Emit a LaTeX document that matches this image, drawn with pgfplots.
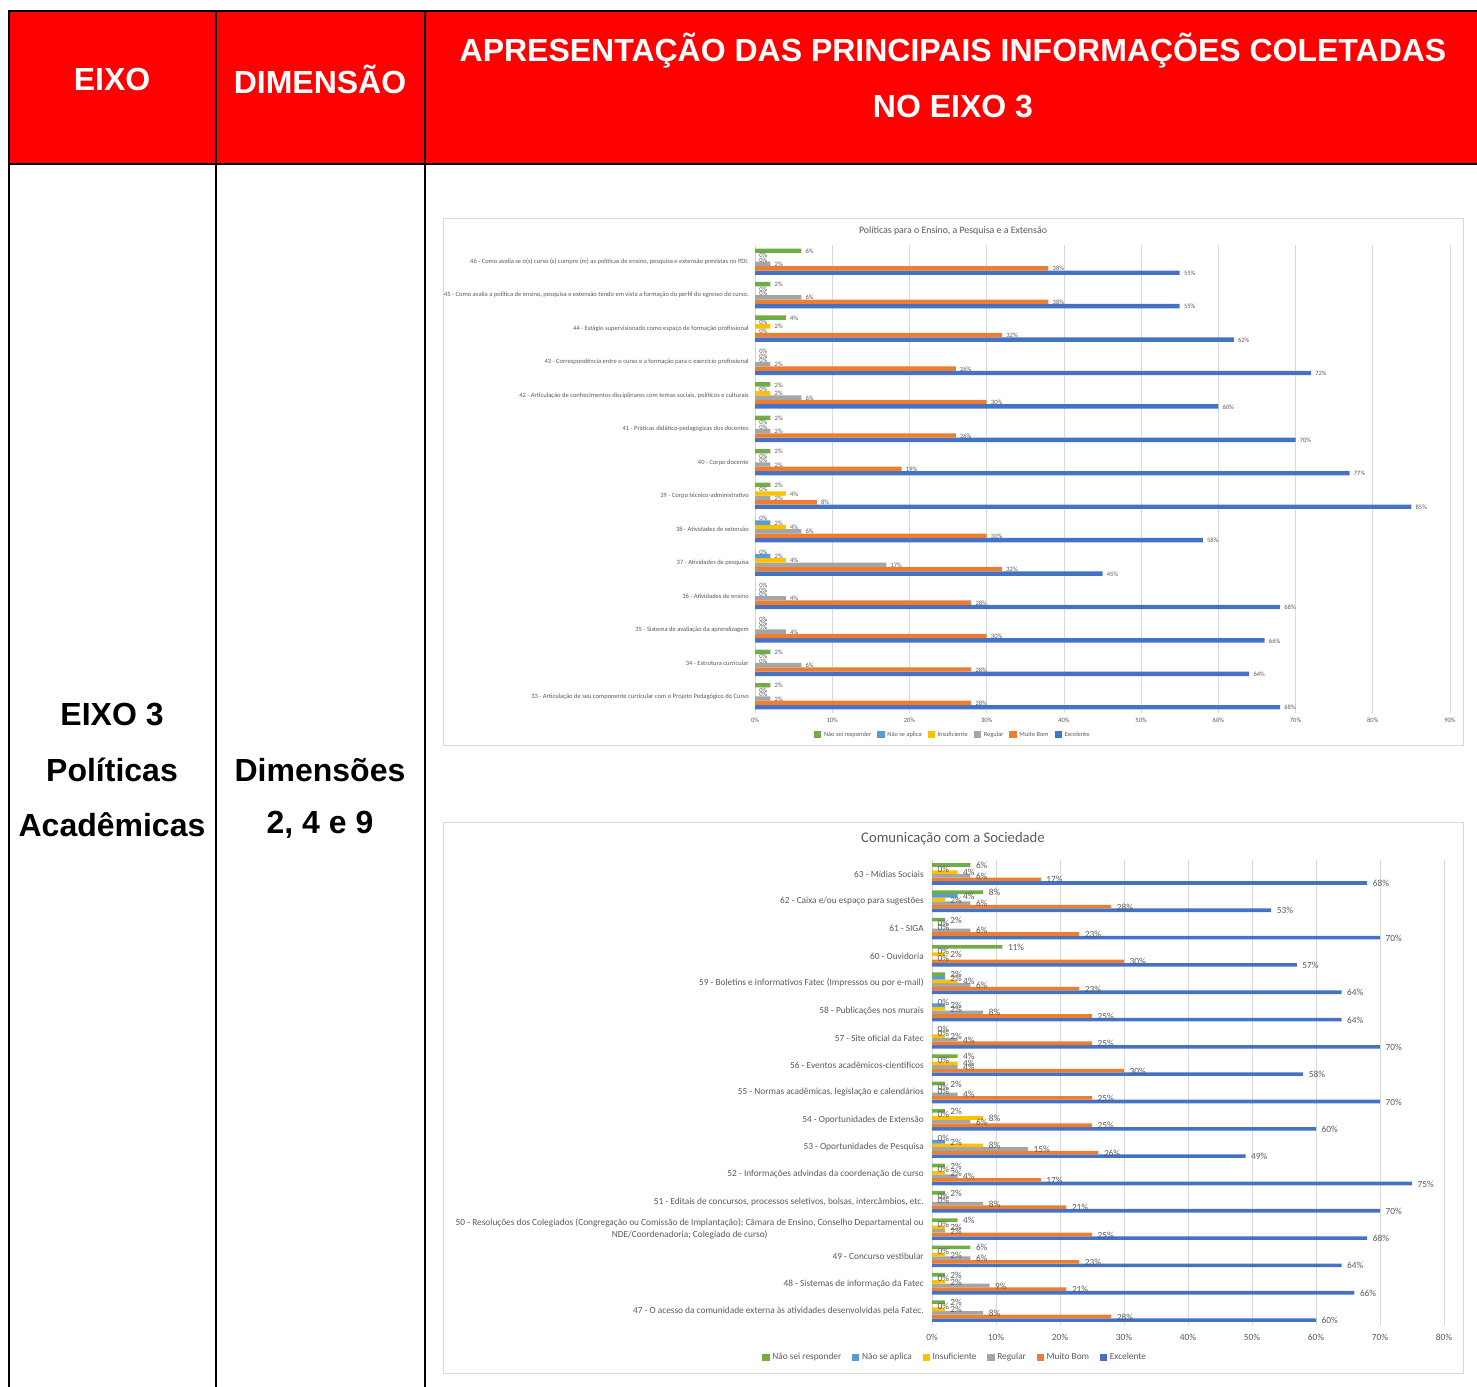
\documentclass[border=0pt]{standalone}
\usepackage{pgfplots}
\pgfplotsset{compat=1.18}
\usepackage{pgfplotstable}
\usepackage{fontspec}
\setmainfont{Carlito}
\newfontfamily\arial{Liberation Sans}
\definecolor{cNSR}{HTML}{70AD47}
\definecolor{cNSA}{HTML}{5B9BD5}
\definecolor{cINS}{HTML}{FFC000}
\definecolor{cREG}{HTML}{A5A5A5}
\definecolor{cMB}{HTML}{ED7D31}
\definecolor{cEXC}{HTML}{4472C4}
\definecolor{txt}{HTML}{595959}
\definecolor{gridc}{HTML}{D9D9D9}

\pgfplotstableread{
y nsr nsa ins reg mb exc
0 6 0 0 2 38 55
1 2 0 0 6 38 55
2 4 0 2 0 32 62
3 0 0 0 2 26 72
4 2 0 2 6 30 60
5 2 0 0 2 26 70
6 2 0 0 2 19 77
7 2 0 4 2 8 85
8 0 2 4 6 30 58
9 0 2 4 17 32 45
10 0 0 0 4 28 68
11 0 0 0 4 30 66
12 2 0 0 6 28 64
13 2 0 0 2 28 68
}\dataA

\pgfplotstableread{
y nsr nsa ins reg mb exc
0 6 0 4 6 17 68
1 8 4 2 6 28 53
2 2 0 0 6 23 70
3 11 0 2 0 30 57
4 2 2 4 6 23 64
5 0 2 2 8 25 64
6 0 0 2 4 25 70
7 4 0 4 4 30 58
8 2 0 0 4 25 70
9 2 0 8 6 25 60
10 0 2 8 15 26 49
11 2 0 2 4 17 75
12 2 0 0 8 21 70
13 4 0 2 2 25 68
14 6 0 2 6 23 64
15 2 0 2 9 21 66
16 2 0 2 8 28 60
}\dataB

\pgfplotsset{excelbar/.style={
  xbar=0pt, scale only axis, y dir=reverse,
  axis line style={draw=none}, major tick length=0pt,
  xmajorgrids, major grid style={gridc, line width=0.6pt},
  point meta=x,
  nodes near coords={\pgfmathprintnumber{\pgfplotspointmeta}\%},
  every node near coord/.append style={color=txt, inner sep=1pt, yshift=-0.3pt},
  /pgf/number format/assume math mode=true,
  xticklabel={\pgfmathprintnumber{\tick}\%},
  tick label style={color=txt},
  yticklabel style={inner sep=0pt, align=center},
  xticklabel style={inner sep=0pt},
  legend cell align=left, reverse legend,
  legend style={draw=none, fill=none, legend columns=6, text=txt},
  legend image code/.code={\fill[##1,draw=none] (0pt,-0.25em) rectangle (0.55em,0.3em);},
}}

\begin{document}
\begin{tikzpicture}
\useasboundingbox (0pt,0pt) rectangle (1107.75pt,-1040.25pt);
\begin{scope}[x=0.75pt,y=-0.75pt]
\fill[red] (9,11) rectangle (1477,164);
\draw[line width=1.5pt] (1477,11) -- (9,11) -- (9,1387);
\draw[line width=1.5pt] (9,164) -- (1477,164);
\draw[line width=1.5pt] (216,11) -- (216,1387);
\draw[line width=1.5pt] (425,11) -- (425,1387);
\begin{scope}[font=\arial\bfseries\fontsize{24}{28}\selectfont]
\node[white] at (112,79) {EIXO};
\node[white] at (320,79) {DIMENSÃO};
\node[white] at (953,51) {APRESENTAÇÃO DAS PRINCIPAIS INFORMAÇÕES COLETADAS};
\node[white] at (953,107) {NO EIXO 3};
\node at (112,715) {EIXO 3};
\node at (112,770) {Políticas};
\node at (112,825) {Acadêmicas};
\node at (320,770) {Dimensões};
\node at (320,825) {2, 4 e 9};
\end{scope}
\draw[gridc, line width=0.75pt] (443,219) rectangle (1463,745);
\draw[gridc, line width=0.75pt] (443,822) rectangle (1463,1373);
\node[txt, font=\fontsize{7.4}{8.6}\selectfont] at (953,231) {Políticas para o Ensino, a Pesquisa e a Extensão};
\node[txt, font=\fontsize{11}{13}\selectfont] at (953,839) {Comunicação com a Sociedade};
\end{scope}

\begin{axis}[excelbar, at={(826.875pt,-359.25pt)}, anchor=center,
  width=521.25pt, height=351pt, bar width=3.3pt,
  xmin=0, xmax=90, xtick={0,10,...,90},
  ymin=-0.5, ymax=13.5, ytick={0,...,13},
  yticklabels={
  {46 - Como avalia se o(s) curso (s) cumpre (m) as políticas de ensino, pesquisa e extensão previstas no PDI.},
  {45 - Como avalia a política de ensino, pesquisa e extensão tendo em vista a formação do perfil do egresso do curso.},
  {44 - Estágio supervisionado como espaço de formação profissional},
  {43 - Correspondência entre o curso e a formação para o exercício profissional},
  {42 - Articulação de conhecimentos disciplinares com temas sociais, políticos e culturais},
  {41 - Práticas didático-pedagógicas dos docentes},
  {40 - Corpo docente},
  {39 - Corpo técnico-administrativo},
  {38 - Atividades de extensão},
  {37 - Atividades de pesquisa},
  {36 - Atividades de ensino},
  {35 - Sistema de avaliação da aprendizagem},
  {34 - Estrutura curricular},
  {33 - Articulação de seu componente curricular com o Projeto Pedagógico do Curso}},
  yticklabel style={font=\fontsize{4.9}{5.6}\selectfont, xshift=-4.5pt},
  xticklabel style={font=\fontsize{4.9}{5.6}\selectfont, yshift=-3.4pt},
  every node near coord/.append style={font=\fontsize{4.9}{5.6}\selectfont, xshift=2pt},
  legend style={at={(0.285,-0.047)}, anchor=center, font=\fontsize{4.8}{5.5}\selectfont,
    /tikz/every even column/.append style={column sep=2.5pt}},
]
\addplot[fill=cEXC, draw=none] table[x=exc,y=y] {\dataA};
\addplot[fill=cMB, draw=none] table[x=mb,y=y] {\dataA};
\addplot[fill=cREG, draw=none] table[x=reg,y=y] {\dataA};
\addplot[fill=cINS, draw=none] table[x=ins,y=y] {\dataA};
\addplot[fill=cNSA, draw=none] table[x=nsa,y=y] {\dataA};
\addplot[fill=cNSR, draw=none] table[x=nsr,y=y] {\dataA};
\legend{Excelente, Muito Bom, Regular, Insuficiente, Não se aplica, Não sei responder}
\end{axis}

\begin{axis}[excelbar, at={(891pt,-819.375pt)}, anchor=center,
  width=384pt, height=348.3pt, bar width=2.7pt,
  xmin=0, xmax=80, xtick={0,10,...,80},
  ymin=-0.5, ymax=16.5, ytick={0,...,16},
  yticklabels={
  {63 - Mídias Sociais},
  {62 - Caixa e/ou espaço para sugestões},
  {61 - SIGA},
  {60 - Ouvidoria},
  {59 - Boletins e informativos Fatec (Impressos ou por e-mail)},
  {58 - Publicações nos murais},
  {57 - Site oficial da Fatec},
  {56 - Eventos acadêmicos-científicos},
  {55 - Normas acadêmicas, legislação e calendários},
  {54 - Oportunidades de Extensão},
  {53 - Oportunidades de Pesquisa},
  {52 - Informações advindas da coordenação de curso},
  {51 - Editais de concursos, processos seletivos, bolsas, intercâmbios, etc.},
  {50 - Resoluções dos Colegiados (Congregação ou Comissão de Implantação); Câmara de Ensino, Conselho Departamental ou\\NDE/Coordenadoria; Colegiado de curso)},
  {49 - Concurso vestibular},
  {48 - Sistemas de informação da Fatec},
  {47 - O acesso da comunidade externa às atividades desenvolvidas pela Fatec.}},
  yticklabel style={font=\fontsize{7}{8.6}\selectfont, xshift=-6pt},
  xticklabel style={font=\fontsize{7}{8}\selectfont, yshift=-6.5pt},
  every node near coord/.append style={font=\fontsize{7}{8}\selectfont, xshift=3pt},
  legend style={at={(0.046,-0.071)}, anchor=center, font=\fontsize{7}{8}\selectfont,
    /tikz/every even column/.append style={column sep=6pt}},
]
\addplot[fill=cEXC, draw=none] table[x=exc,y=y] {\dataB};
\addplot[fill=cMB, draw=none] table[x=mb,y=y] {\dataB};
\addplot[fill=cREG, draw=none] table[x=reg,y=y] {\dataB};
\addplot[fill=cINS, draw=none] table[x=ins,y=y] {\dataB};
\addplot[fill=cNSA, draw=none] table[x=nsa,y=y] {\dataB};
\addplot[fill=cNSR, draw=none] table[x=nsr,y=y] {\dataB};
\legend{Excelente, Muito Bom, Regular, Insuficiente, Não se aplica, Não sei responder}
\end{axis}
\end{tikzpicture}
\end{document}
